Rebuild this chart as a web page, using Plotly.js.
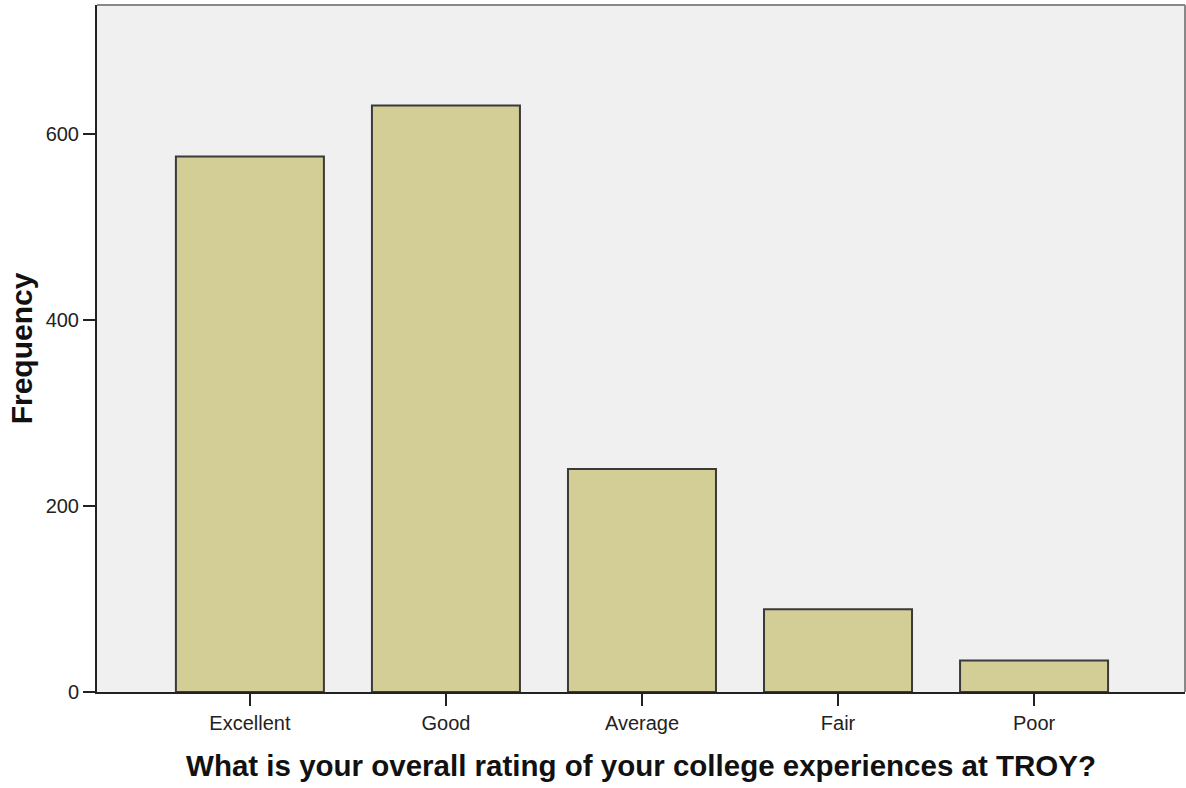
<!DOCTYPE html>
<html><head><meta charset="utf-8">
<script src="https://cdn.plot.ly/plotly-3.0.1.min.js"></script>
<style>html,body{margin:0;padding:0;background:#fff;}#chart{width:1186px;height:788px;}</style>
</head><body><div id="chart"></div>
<script>
const categories = ["Excellent", "Good", "Average", "Fair", "Poor"];
const frequency = [576, 631, 240, 89, 34];
const yTicks = [0, 200, 400, 600];

const trace = {
  type: "bar",
  x: categories,
  y: frequency,
  width: 0.755,
  marker: {color: "#d3cd96", line: {color: "#3a3a3a", width: 2}},
  hoverinfo: "x+y"
};
const layout = {
  width: 1186, height: 788,
  margin: {l: 97, r: 1, t: 5, b: 96},
  paper_bgcolor: "#ffffff",
  plot_bgcolor: "#f0f0f0",
  showlegend: false,
  font: {family: "Liberation Sans, Arial, sans-serif", color: "#222"},
  xaxis: {
    range: [-0.78, 4.77],
    showgrid: false, zeroline: false,
    showline: true, linecolor: "#222", linewidth: 2,
    ticks: "outside", ticklen: 12, tickwidth: 2, tickcolor: "#222",
    tickfont: {size: 20, color: "#222"},
    title: {text: "What is your overall rating of your college experiences at TROY?", font: {size: 29.5, color: "#111", family: "Liberation Sans, Arial, sans-serif", weight: "bold"}, standoff: 22}
  },
  yaxis: {
    range: [0, 739],
    tickvals: yTicks,
    showgrid: false, zeroline: false,
    showline: true, linecolor: "#222", linewidth: 2,
    ticks: "outside", ticklen: 12, tickwidth: 2, tickcolor: "#222",
    tickfont: {size: 20, color: "#222"},
    title: {text: "Frequency", font: {size: 30, color: "#111", family: "Liberation Sans, Arial, sans-serif", weight: "bold"}, standoff: 4}
  },
  shapes: [
    {type: "line", xref: "paper", yref: "paper", x0: 0, x1: 1, y0: 1, y1: 1, line: {color: "#888", width: 2}},
    {type: "line", xref: "paper", yref: "paper", x0: 1, x1: 1, y0: 0, y1: 1, line: {color: "#888", width: 2}}
  ]
};
Plotly.newPlot("chart", [trace], layout, {displayModeBar: false, staticPlot: true});
</script></body></html>
